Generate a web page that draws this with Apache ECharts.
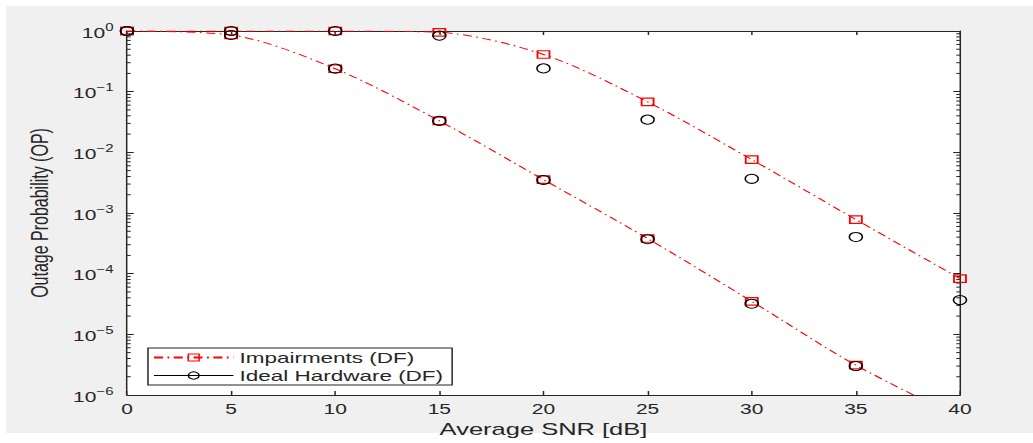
<!DOCTYPE html>
<html><head><meta charset="utf-8">
<script src="https://cdn.jsdelivr.net/npm/echarts@6/dist/echarts.min.js"></script>
<style>
html,body{margin:0;padding:0;background:#fff;width:1033px;height:443px;overflow:hidden;}
#bg{position:absolute;left:6px;top:6px;width:1027px;height:427px;background:#f0f0f0;}
#wrap{position:absolute;left:0;top:0;width:689px;height:443px;transform:scaleX(1.49927);transform-origin:0 0;}
</style></head><body>
<div id="bg"></div>
<div id="wrap"></div>
<script>
// ---- data ----
const snr = [0, 5, 10, 15, 20, 25, 30, 35, 40];
const impairHigh = [1, 1, 1, 0.95, 0.41, 0.068, 0.0076, 0.00078, 8.3e-5];
const idealHigh  = [1, 1, 1, 0.84, 0.242, 0.0346, 0.00366, 0.000403, 3.67e-5];
const impairLow  = [1, 0.86, 0.239, 0.033, 0.00355, 0.00038, 3.5e-5, 3.1e-6, 4.2e-7];
const idealLow   = [1, 0.86, 0.24, 0.033, 0.0035, 0.00037, 3.2e-5, 3.0e-6, null];
const xTickLabels = ['0','5','10','15','20','25','30','35','40'];
const yDecades = [-6, -5, -4, -3, -2, -1, 0];
const minorMultipliers = [2, 3, 4, 5, 6, 7, 8, 9];

const TXT = '#262626';
const FONT = '"Liberation Sans", Arial, sans-serif';

const minorTicks = [];
yDecades.slice(0, -1).forEach(d => minorMultipliers.forEach(m => minorTicks.push([0, m * Math.pow(10, d)])));

function pairs(vals, hideIdx) {
  return snr.map((x, i) => {
    if (vals[i] == null) return [x, null];
    if (hideIdx != null && i === hideIdx) return { value: [x, vals[i]], symbol: 'none' };
    return [x, vals[i]];
  });
}

const dashDot = [6, 3, 1.2, 3];
const redLine = { color: '#ff0000', width: 1, type: dashDot };
const sqStyle = { color: 'transparent', borderColor: '#ff0000', borderWidth: 1.2 };
const ciStyle = { color: 'transparent', borderColor: '#000000', borderWidth: 1 };

const chart = echarts.init(document.getElementById('wrap'), null, { renderer: 'svg' });
chart.setOption({
  animation: false,
  backgroundColor: 'transparent',
  textStyle: { fontFamily: FONT, color: TXT },
  grid: { left: 84.7, right: 48.7, top: 31, bottom: 45, show: true, backgroundColor: '#ffffff', borderWidth: 0 },
  legend: {
    orient: 'vertical', left: 98.7, top: 348,
    backgroundColor: '#ffffff', borderColor: TXT, borderWidth: 1,
    padding: [1, 6, 1, 3], itemGap: 1, itemWidth: 53, itemHeight: 9,
    textStyle: { fontFamily: FONT, fontSize: 15, lineHeight: 17, color: TXT, padding: [0, 0, 0, -1] },
    data: [
      { name: 'Impairments (DF)', itemStyle: { borderWidth: 1 } },
      { name: 'Ideal Hardware (DF)', itemStyle: { borderWidth: 1 }, lineStyle: { color: '#000000', width: 1, type: 'solid', opacity: 1 } }
    ]
  },
  xAxis: [{
    type: 'value', min: 0, max: 40, interval: 5, position: 'bottom',
    axisLine: { onZero: false, lineStyle: { color: TXT, width: 1 } },
    axisTick: { inside: true, length: 4, lineStyle: { color: TXT } },
    splitLine: { show: false },
    axisLabel: { fontFamily: FONT, fontSize: 14, color: TXT, margin: 7,
      formatter: v => xTickLabels[Math.round(v / 5)] },
    name: 'Average SNR [dB]', nameLocation: 'middle', nameGap: 26,
    nameTextStyle: { fontFamily: FONT, fontSize: 17, color: TXT }
  }, {
    type: 'value', min: 0, max: 40, interval: 5, position: 'top',
    axisLine: { onZero: false, lineStyle: { color: TXT, width: 1 } },
    axisTick: { inside: true, length: 4, lineStyle: { color: TXT } },
    splitLine: { show: false }, axisLabel: { show: false }
  }],
  yAxis: [{
    type: 'log', logBase: 10, min: 1e-6, max: 1, splitNumber: 6, position: 'left',
    axisLine: { onZero: false, lineStyle: { color: TXT, width: 1 } },
    axisTick: { inside: true, length: 4.5, lineStyle: { color: TXT } },
    splitLine: { show: false },
    axisLabel: {
      margin: 9, fontFamily: FONT, color: TXT,
      formatter: v => {
        const e = Math.round(Math.log10(v));
        return '{b|10}{s|' + (e < 0 ? '\u2212' + (-e) : String(e)) + '}';
      },
      rich: {
        b: { fontFamily: FONT, fontSize: 14, color: TXT, lineHeight: 18, verticalAlign: 'bottom' },
        s: { fontFamily: FONT, fontSize: 10, color: TXT, lineHeight: 18, verticalAlign: 'top', padding: [0, 0, 6, 0] }
      }
    },
    name: 'Outage Probability (OP)', nameLocation: 'middle', nameGap: 50,
    nameTextStyle: { fontFamily: FONT, fontSize: 16, color: TXT }
  }, {
    type: 'log', logBase: 10, min: 1e-6, max: 1, splitNumber: 6, position: 'right',
    axisLine: { onZero: false, lineStyle: { color: TXT, width: 1 } },
    axisTick: { inside: true, length: 4.5, lineStyle: { color: TXT } },
    splitLine: { show: false }, axisLabel: { show: false }
  }],
  series: [
    {
      type: 'custom', silent: true, xAxisIndex: 0, yAxisIndex: 0, z: 1,
      data: minorTicks,
      renderItem: (params, api) => {
        const y = api.coord([0, api.value(1)])[1];
        const cs = params.coordSys;
        const st = { stroke: TXT, lineWidth: 1 };
        return { type: 'group', children: [
          { type: 'line', shape: { x1: cs.x, y1: y, x2: cs.x + 2.5, y2: y }, style: st },
          { type: 'line', shape: { x1: cs.x + cs.width - 2.5, y1: y, x2: cs.x + cs.width, y2: y }, style: st }
        ] };
      }
    },
    {
      name: 'Impairments (DF)', type: 'line', data: pairs(impairHigh),
      smooth: 0.3, clip: true, symbol: 'rect', symbolSize: [8, 7.5],
      lineStyle: redLine, itemStyle: sqStyle, z: 3
    },
    {
      name: 'Impairments (DF)', type: 'line', data: pairs(impairLow, 8),
      smooth: 0.3, clip: true, symbol: 'rect', symbolSize: [8, 7.5],
      lineStyle: redLine, itemStyle: sqStyle, z: 3
    },
    {
      name: 'Ideal Hardware (DF)', type: 'line', data: pairs(idealHigh),
      clip: true, symbol: 'circle', symbolSize: [8.7, 9],
      lineStyle: { color: '#000', width: 1, opacity: 0 }, itemStyle: ciStyle, z: 4
    },
    {
      name: 'Ideal Hardware (DF)', type: 'line', data: pairs(idealLow),
      clip: true, symbol: 'circle', symbolSize: [8.7, 9],
      lineStyle: { color: '#000', width: 1, opacity: 0 }, itemStyle: ciStyle, z: 4
    }
  ]
});
</script>
</body></html>
